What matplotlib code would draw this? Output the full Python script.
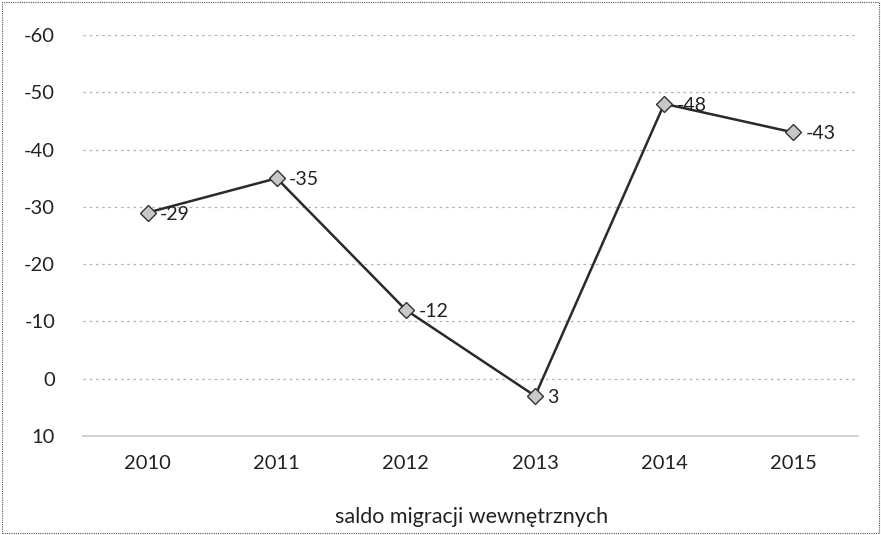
import matplotlib

matplotlib.use("Agg")
import matplotlib.pyplot as plt
from matplotlib.patches import Rectangle

years = ["2010", "2011", "2012", "2013", "2014", "2015"]
saldo = [-29, -35, -12, 3, -48, -43]
y_ticks = [-60, -50, -40, -30, -20, -10, 0, 10]
series_name = "saldo migracji wewnętrznych"

plt.rcParams["font.family"] = ["Lato", "DejaVu Sans"]

fig = plt.figure(figsize=(8.81, 5.35), dpi=100)
ax = fig.add_axes([0.0942, 0.185, 0.8797, 0.7495])

x = list(range(len(years)))
ax.plot(x, saldo, color="#2a2a2a", linewidth=1.8, marker="D", markersize=8,
        markerfacecolor="#c8c8c8", markeredgecolor="#333333", markeredgewidth=1.0,
        zorder=3)
for xi, v in zip(x, saldo):
    ax.annotate(f"{v}", (xi, v), xytext=(9, -1), textcoords="offset points",
                fontsize=14, color="#222222", va="center", ha="left")

ax.set_xlim(-0.5, len(years) - 0.5)
ax.set_ylim(10, -60)
ax.set_yticks(y_ticks)
ax.set_yticklabels([str(t) for t in y_ticks])
ax.set_xticks(x)
ax.set_xticklabels(years)
ax.tick_params(axis="both", length=0, labelsize=14.5, colors="#222222")
ax.tick_params(axis="y", pad=20)
ax.tick_params(axis="x", pad=14)

ax.grid(axis="y", color="#b0b0b0", linestyle=(0, (2, 3)), linewidth=0.9)
ax.grid(axis="x", visible=False)
for side in ["top", "right", "left"]:
    ax.spines[side].set_visible(False)
ax.spines["bottom"].set_color("#c8c8c8")
ax.spines["bottom"].set_linewidth(1.2)

fig.text(0.535, 0.034, series_name, ha="center", va="center", fontsize=15.5,
         color="#222222")

fig.patches.append(Rectangle((0.002, 0.003), 0.996, 0.994, transform=fig.transFigure,
                             fill=False, edgecolor="#555555", linewidth=0.8,
                             linestyle=(0, (1, 1))))

fig.savefig("out.png", dpi=100)
